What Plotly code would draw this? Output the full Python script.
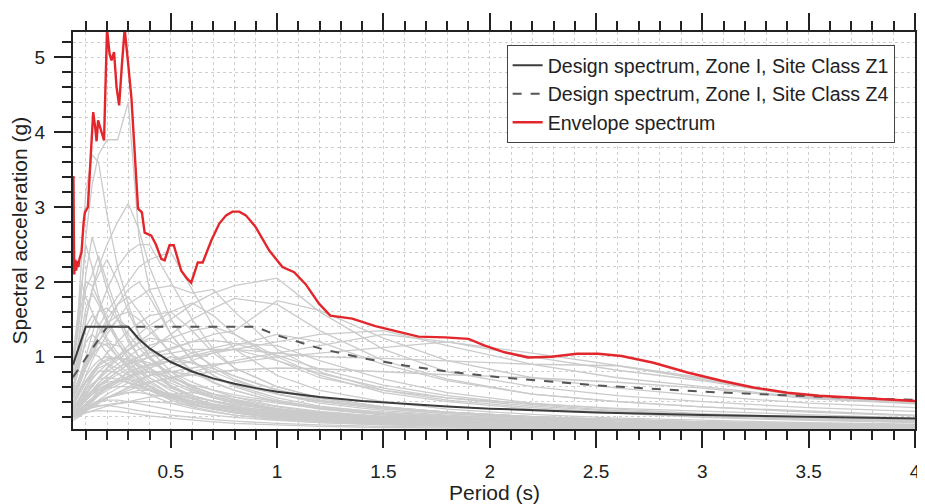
import plotly.graph_objects as go

# ---- period grid for individual record spectra (s)
periods = [0.04, 0.06, 0.08, 0.10, 0.13, 0.16, 0.20, 0.25, 0.30, 0.35, 0.40, 0.50,
           0.60, 0.70, 0.80, 1.0, 1.2, 1.5, 1.8, 2.2, 2.6, 3.0, 3.5, 4.0]

# ---- individual ground-motion spectra (g)
rec01 = [0.95, 1.3, 1.9, 2.6, 3.3, 3.7, 3.9, 3.9, 4.4, 2.6, 1.9, 1.3, 0.95, 0.75, 0.6, 0.42, 0.32, 0.24, 0.19, 0.15, 0.12, 0.10, 0.08, 0.07]
rec02 = [0.85, 1.4, 2.3, 3.2, 3.7, 3.6, 2.9, 2.2, 1.7, 1.3, 1.0, 0.7, 0.55, 0.45, 0.38, 0.28, 0.22, 0.17, 0.13, 0.10, 0.08, 0.07, 0.06, 0.05]
rec03 = [0.6, 0.8, 1.1, 1.5, 1.9, 2.2, 2.5, 2.8, 3.05, 2.7, 2.2, 1.5, 1.1, 0.85, 0.7, 0.5, 0.4, 0.3, 0.24, 0.19, 0.15, 0.12, 0.10, 0.08]
rec04 = [0.5, 0.6, 0.8, 1.0, 1.3, 1.6, 1.9, 2.2, 2.4, 2.5, 2.5, 2.0, 1.5, 1.1, 0.85, 0.6, 0.45, 0.33, 0.26, 0.2, 0.16, 0.13, 0.1, 0.08]
rec05 = [0.45, 0.55, 0.7, 0.9, 1.1, 1.4, 1.6, 1.8, 2.0, 2.2, 2.3, 2.4, 1.9, 1.4, 1.1, 0.75, 0.55, 0.4, 0.3, 0.23, 0.18, 0.15, 0.12, 0.1]
rec06 = [0.4, 0.5, 0.6, 0.75, 0.95, 1.1, 1.3, 1.5, 1.7, 1.8, 1.9, 1.95, 1.85, 1.9, 1.6, 1.1, 0.8, 0.55, 0.42, 0.32, 0.25, 0.2, 0.16, 0.13]
rec07 = [0.3, 0.35, 0.45, 0.55, 0.7, 0.8, 0.9, 1.0, 1.1, 1.2, 1.3, 1.5, 1.7, 1.85, 1.95, 2.05, 1.6, 1.1, 0.8, 0.6, 0.48, 0.4, 0.32, 0.27]
rec08 = [0.25, 0.3, 0.35, 0.45, 0.55, 0.65, 0.75, 0.85, 0.95, 1.0, 1.05, 1.1, 1.2, 1.3, 1.35, 1.75, 1.62, 1.25, 0.95, 0.72, 0.58, 0.48, 0.38, 0.32]
rec09 = [0.2, 0.25, 0.3, 0.35, 0.4, 0.5, 0.6, 0.7, 0.8, 0.85, 0.9, 0.95, 1.0, 1.05, 1.1, 1.2, 1.3, 1.35, 1.15, 0.9, 0.72, 0.6, 0.45, 0.38]
rec10 = [0.2, 0.22, 0.26, 0.3, 0.36, 0.42, 0.5, 0.58, 0.65, 0.7, 0.75, 0.8, 0.85, 0.9, 0.92, 1.0, 1.05, 1.12, 1.2, 1.05, 0.88, 0.72, 0.46, 0.38]
rec11 = [0.25, 0.3, 0.35, 0.42, 0.5, 0.6, 0.7, 0.8, 0.9, 0.95, 1.0, 1.05, 1.1, 1.1, 1.1, 1.05, 1.0, 0.98, 0.95, 0.9, 0.88, 0.7, 0.47, 0.38]
rec12 = [0.7, 0.9, 1.2, 1.5, 1.9, 2.1, 2.3, 2.0, 1.6, 1.3, 1.1, 0.8, 0.6, 0.5, 0.42, 0.3, 0.24, 0.18, 0.14, 0.11, 0.09, 0.07, 0.06, 0.05]
rec13 = [0.9, 1.3, 1.9, 2.5, 2.2, 1.8, 1.5, 1.2, 0.95, 0.8, 0.68, 0.5, 0.4, 0.33, 0.28, 0.2, 0.16, 0.12, 0.1, 0.08, 0.06, 0.05, 0.045, 0.04]
rec14 = [1.0, 1.5, 2.0, 1.8, 1.6, 1.4, 1.2, 1.0, 0.85, 0.7, 0.6, 0.45, 0.35, 0.3, 0.25, 0.18, 0.14, 0.1, 0.08, 0.06, 0.05, 0.045, 0.04, 0.035]
rec15 = [0.5, 0.6, 0.75, 0.9, 1.1, 1.3, 1.5, 1.7, 1.8, 1.6, 1.4, 1.05, 0.8, 0.65, 0.55, 0.4, 0.3, 0.22, 0.18, 0.14, 0.11, 0.09, 0.07, 0.06]
rec16 = [0.35, 0.4, 0.5, 0.6, 0.75, 0.9, 1.05, 1.2, 1.35, 1.45, 1.55, 1.6, 1.35, 1.05, 0.85, 0.6, 0.45, 0.33, 0.26, 0.2, 0.16, 0.13, 0.1, 0.08]
rec17 = [0.3, 0.35, 0.4, 0.5, 0.6, 0.7, 0.8, 0.9, 1.0, 1.1, 1.15, 1.25, 1.35, 1.4, 1.3, 1.0, 0.75, 0.52, 0.4, 0.3, 0.24, 0.19, 0.15, 0.12]
rec18 = [0.2, 0.25, 0.3, 0.35, 0.42, 0.5, 0.58, 0.65, 0.72, 0.8, 0.85, 0.95, 1.05, 1.12, 1.18, 1.15, 0.95, 0.7, 0.52, 0.38, 0.3, 0.24, 0.19, 0.15]
rec19 = [0.35, 0.45, 0.55, 0.65, 0.75, 0.85, 0.9, 0.85, 0.75, 0.65, 0.55, 0.42, 0.33, 0.27, 0.22, 0.16, 0.12, 0.09, 0.07, 0.055, 0.045, 0.04, 0.035, 0.03]
rec20 = [0.25, 0.3, 0.35, 0.42, 0.5, 0.58, 0.63, 0.68, 0.7, 0.66, 0.6, 0.48, 0.38, 0.31, 0.26, 0.19, 0.15, 0.11, 0.09, 0.07, 0.06, 0.05, 0.04, 0.035]
rec21 = [0.5, 0.65, 0.8, 0.95, 1.1, 1.2, 1.15, 1.0, 0.85, 0.72, 0.62, 0.47, 0.37, 0.3, 0.25, 0.18, 0.14, 0.1, 0.08, 0.065, 0.05, 0.045, 0.04, 0.035]
rec22 = [0.45, 0.55, 0.7, 0.85, 1.05, 1.2, 1.35, 1.5, 1.4, 1.2, 1.0, 0.75, 0.58, 0.47, 0.4, 0.29, 0.22, 0.16, 0.13, 0.1, 0.08, 0.065, 0.055, 0.045]
rec23 = [0.2, 0.25, 0.3, 0.38, 0.45, 0.55, 0.62, 0.7, 0.78, 0.85, 0.9, 1.0, 0.92, 0.8, 0.68, 0.5, 0.38, 0.28, 0.22, 0.17, 0.13, 0.11, 0.09, 0.07]
rec24 = [0.25, 0.3, 0.36, 0.42, 0.5, 0.56, 0.62, 0.68, 0.73, 0.77, 0.8, 0.72, 0.6, 0.5, 0.42, 0.3, 0.23, 0.17, 0.13, 0.1, 0.08, 0.065, 0.055, 0.045]
rec25 = [0.3, 0.35, 0.4, 0.45, 0.5, 0.55, 0.58, 0.6, 0.6, 0.58, 0.55, 0.5, 0.45, 0.4, 0.36, 0.3, 0.25, 0.2, 0.17, 0.14, 0.12, 0.1, 0.085, 0.07]
rec26 = [0.25, 0.27, 0.3, 0.32, 0.34, 0.35, 0.35, 0.33, 0.3, 0.28, 0.26, 0.22, 0.19, 0.16, 0.14, 0.11, 0.09, 0.07, 0.06, 0.05, 0.042, 0.036, 0.03, 0.026]
rec27 = [0.5, 0.6, 0.7, 0.85, 1.0, 1.2, 1.4, 1.7, 1.9, 2.0, 1.8, 1.3, 0.95, 0.75, 0.62, 0.45, 0.34, 0.25, 0.2, 0.15, 0.12, 0.1, 0.08, 0.065]
rec28 = [0.6, 0.8, 1.0, 1.2, 1.3, 1.2, 1.05, 0.9, 0.78, 0.68, 0.6, 0.48, 0.4, 0.34, 0.3, 0.23, 0.18, 0.14, 0.11, 0.09, 0.075, 0.065, 0.055, 0.045]
rec29 = [0.3, 0.35, 0.42, 0.5, 0.6, 0.72, 0.85, 1.0, 1.15, 1.3, 1.42, 1.6, 1.72, 1.55, 1.3, 0.95, 0.72, 0.55, 0.45, 0.37, 0.31, 0.27, 0.22, 0.18]
rec30 = [0.15, 0.18, 0.22, 0.27, 0.32, 0.38, 0.45, 0.52, 0.58, 0.62, 0.66, 0.72, 0.76, 0.8, 0.82, 0.85, 0.84, 0.8, 0.76, 0.72, 0.66, 0.58, 0.44, 0.37]
rec31 = [0.8, 1.1, 1.5, 1.9, 2.1, 2.35, 2.0, 1.6, 1.25, 1.0, 0.85, 0.62, 0.48, 0.4, 0.34, 0.25, 0.19, 0.14, 0.11, 0.09, 0.07, 0.06, 0.05, 0.04]
rec32 = [0.22, 0.25, 0.3, 0.35, 0.4, 0.48, 0.55, 0.62, 0.7, 0.78, 0.85, 0.95, 1.02, 1.08, 1.1, 0.95, 0.78, 0.58, 0.45, 0.34, 0.27, 0.22, 0.17, 0.14]
rec33 = [0.3, 0.35, 0.4, 0.48, 0.55, 0.62, 0.7, 0.8, 0.9, 1.0, 1.1, 1.3, 1.5, 1.65, 1.78, 1.7, 1.35, 0.95, 0.7, 0.5, 0.4, 0.33, 0.27, 0.22]
rec34 = [0.25, 0.27, 0.3, 0.33, 0.37, 0.41, 0.45, 0.49, 0.52, 0.55, 0.55, 0.5, 0.43, 0.37, 0.32, 0.24, 0.19, 0.14, 0.11, 0.09, 0.07, 0.06, 0.05, 0.04]
rec35 = [0.22, 0.23, 0.25, 0.26, 0.27, 0.28, 0.28, 0.27, 0.25, 0.23, 0.21, 0.18, 0.15, 0.13, 0.11, 0.085, 0.07, 0.055, 0.045, 0.038, 0.032, 0.028, 0.024, 0.02]
rec36 = [0.7, 1.0, 1.5, 2.1, 2.6, 2.3, 1.9, 1.5, 1.2, 1.0, 0.85, 0.6, 0.45, 0.36, 0.3, 0.22, 0.17, 0.13, 0.1, 0.08, 0.065, 0.055, 0.045, 0.04]
rec37 = [0.4, 0.48, 0.58, 0.68, 0.8, 0.9, 0.97, 1.0, 0.95, 0.87, 0.8, 0.65, 0.53, 0.45, 0.38, 0.29, 0.23, 0.17, 0.14, 0.11, 0.09, 0.075, 0.06, 0.05]
rec38 = [0.18, 0.2, 0.24, 0.28, 0.33, 0.38, 0.45, 0.52, 0.6, 0.68, 0.75, 0.85, 0.95, 1.05, 1.15, 1.3, 1.2, 0.9, 0.68, 0.5, 0.4, 0.33, 0.26, 0.21]
rec39 = [0.55, 0.65, 0.8, 0.95, 1.15, 1.3, 1.45, 1.55, 1.6, 1.5, 1.35, 1.05, 0.82, 0.66, 0.55, 0.4, 0.31, 0.23, 0.18, 0.14, 0.11, 0.09, 0.075, 0.06]
rec40 = [0.25, 0.26, 0.28, 0.3, 0.32, 0.34, 0.36, 0.38, 0.4, 0.43, 0.46, 0.5, 0.52, 0.5, 0.46, 0.38, 0.31, 0.23, 0.18, 0.14, 0.11, 0.09, 0.075, 0.06]
rec41 = [0.2, 0.22, 0.25, 0.3, 0.35, 0.4, 0.45, 0.5, 0.55, 0.6, 0.65, 0.72, 0.8, 0.88, 0.95, 1.05, 1.15, 1.3, 1.2, 1.0, 0.82, 0.68, 0.46, 0.4]
rec42 = [0.3, 0.38, 0.48, 0.6, 0.72, 0.8, 0.82, 0.78, 0.7, 0.62, 0.55, 0.44, 0.36, 0.3, 0.26, 0.2, 0.16, 0.12, 0.1, 0.08, 0.065, 0.055, 0.047, 0.04]
rec43 = [0.45, 0.6, 0.78, 0.95, 1.05, 1.0, 0.9, 0.78, 0.66, 0.56, 0.49, 0.38, 0.31, 0.26, 0.22, 0.17, 0.14, 0.11, 0.09, 0.075, 0.063, 0.055, 0.047, 0.04]
rec44 = [0.28, 0.32, 0.38, 0.45, 0.55, 0.65, 0.75, 0.85, 0.92, 0.95, 0.92, 0.8, 0.66, 0.55, 0.46, 0.34, 0.27, 0.2, 0.16, 0.13, 0.1, 0.085, 0.07, 0.06]
rec45 = [0.35, 0.4, 0.48, 0.56, 0.64, 0.7, 0.72, 0.7, 0.65, 0.6, 0.55, 0.46, 0.4, 0.35, 0.31, 0.26, 0.22, 0.18, 0.15, 0.12, 0.1, 0.09, 0.075, 0.065]
rec46 = [0.6, 0.85, 1.15, 1.4, 1.55, 1.45, 1.25, 1.05, 0.88, 0.75, 0.65, 0.5, 0.4, 0.33, 0.28, 0.21, 0.17, 0.13, 0.1, 0.08, 0.066, 0.056, 0.048, 0.04]
rec47 = [0.3, 0.36, 0.44, 0.52, 0.62, 0.72, 0.84, 0.96, 1.08, 1.18, 1.25, 1.2, 1.05, 0.88, 0.74, 0.55, 0.42, 0.31, 0.24, 0.18, 0.15, 0.12, 0.1, 0.08]
rec48 = [0.2, 0.23, 0.27, 0.31, 0.36, 0.41, 0.46, 0.5, 0.52, 0.52, 0.5, 0.45, 0.4, 0.36, 0.33, 0.28, 0.24, 0.2, 0.17, 0.14, 0.12, 0.1, 0.085, 0.07]
rec49 = [0.26, 0.28, 0.31, 0.34, 0.37, 0.4, 0.42, 0.42, 0.4, 0.37, 0.34, 0.29, 0.25, 0.22, 0.19, 0.15, 0.12, 0.095, 0.078, 0.062, 0.052, 0.045, 0.038, 0.033]
rec50 = [0.4, 0.5, 0.62, 0.74, 0.86, 0.95, 1.0, 0.98, 0.9, 0.8, 0.72, 0.58, 0.48, 0.41, 0.36, 0.29, 0.24, 0.19, 0.16, 0.13, 0.11, 0.095, 0.08, 0.07]
rec51 = [0.7, 0.95, 1.3, 1.65, 1.85, 1.7, 1.45, 1.2, 1.0, 0.85, 0.72, 0.55, 0.44, 0.36, 0.3, 0.22, 0.17, 0.13, 0.1, 0.08, 0.065, 0.055, 0.046, 0.04]
rec52 = [0.22, 0.26, 0.31, 0.37, 0.44, 0.52, 0.6, 0.68, 0.74, 0.78, 0.8, 0.8, 0.76, 0.7, 0.63, 0.5, 0.41, 0.32, 0.26, 0.2, 0.16, 0.13, 0.11, 0.09]
rec53 = [0.5, 0.6, 0.74, 0.88, 1.02, 1.12, 1.18, 1.15, 1.06, 0.95, 0.85, 0.68, 0.56, 0.47, 0.4, 0.31, 0.25, 0.19, 0.15, 0.12, 0.1, 0.085, 0.07, 0.06]
rec54 = [0.33, 0.37, 0.42, 0.48, 0.55, 0.61, 0.66, 0.68, 0.66, 0.62, 0.57, 0.48, 0.41, 0.36, 0.32, 0.26, 0.21, 0.17, 0.14, 0.115, 0.095, 0.08, 0.068, 0.058]
rec55 = [0.25, 0.28, 0.32, 0.37, 0.43, 0.5, 0.58, 0.66, 0.74, 0.82, 0.88, 0.94, 0.92, 0.84, 0.74, 0.56, 0.44, 0.33, 0.26, 0.2, 0.16, 0.13, 0.105, 0.085]
rec56 = [0.55, 0.75, 1.0, 1.25, 1.45, 1.6, 1.65, 1.5, 1.3, 1.12, 0.97, 0.75, 0.6, 0.5, 0.43, 0.33, 0.26, 0.2, 0.16, 0.13, 0.1, 0.085, 0.07, 0.06]
rec57 = [0.2, 0.21, 0.23, 0.25, 0.28, 0.31, 0.34, 0.37, 0.39, 0.4, 0.4, 0.38, 0.35, 0.32, 0.29, 0.24, 0.2, 0.16, 0.13, 0.11, 0.09, 0.078, 0.066, 0.056]
rec58 = [0.38, 0.46, 0.56, 0.66, 0.78, 0.88, 0.95, 0.98, 0.96, 0.9, 0.84, 0.72, 0.62, 0.55, 0.49, 0.4, 0.33, 0.26, 0.21, 0.17, 0.14, 0.12, 0.1, 0.085]
rec59 = [0.9, 1.25, 1.7, 2.0, 1.95, 1.75, 1.5, 1.25, 1.05, 0.9, 0.78, 0.6, 0.48, 0.4, 0.34, 0.26, 0.2, 0.15, 0.12, 0.095, 0.078, 0.066, 0.055, 0.047]
rec60 = [0.3, 0.34, 0.4, 0.46, 0.53, 0.6, 0.68, 0.76, 0.84, 0.92, 1.0, 1.12, 1.2, 1.22, 1.18, 1.02, 0.84, 0.62, 0.48, 0.36, 0.28, 0.23, 0.18, 0.15]

records = [rec01, rec02, rec03, rec04, rec05, rec06, rec07, rec08, rec09, rec10,
           rec11, rec12, rec13, rec14, rec15, rec16, rec17, rec18, rec19, rec20,
           rec21, rec22, rec23, rec24, rec25, rec26, rec27, rec28, rec29, rec30,
           rec31, rec32, rec33, rec34, rec35, rec36, rec37, rec38, rec39, rec40,
           rec41, rec42, rec43, rec44, rec45, rec46, rec47, rec48, rec49, rec50,
           rec51, rec52, rec53, rec54, rec55, rec56, rec57, rec58, rec59, rec60]

# ---- design spectra (g)
z1_period = [0.04, 0.10, 0.30, 0.35, 0.40, 0.50, 0.60, 0.70, 0.80, 0.90, 1.0, 1.2, 1.4, 1.6, 1.8, 2.0, 2.5, 3.0, 3.5, 4.0]
z1_sa = [0.896, 1.4, 1.4, 1.238, 1.112, 0.930, 0.804, 0.711, 0.639, 0.581, 0.534, 0.462, 0.408, 0.367, 0.334, 0.307, 0.257, 0.222, 0.196, 0.176]
z4_period = [0.04, 0.20, 0.90, 1.0, 1.2, 1.4, 1.6, 1.8, 2.0, 2.5, 3.0, 3.5, 4.0]
z4_sa = [0.728, 1.4, 1.4, 1.287, 1.112, 0.983, 0.884, 0.804, 0.739, 0.618, 0.534, 0.472, 0.424]

# ---- envelope spectrum (g)
env_period = [0.040, 0.042, 0.044, 0.046, 0.050, 0.055, 0.060, 0.065, 0.070, 0.080, 0.090, 0.096, 0.110,
              0.125, 0.135, 0.145, 0.151, 0.158, 0.170, 0.186, 0.200, 0.212, 0.221, 0.233, 0.245,
              0.257, 0.270, 0.283, 0.300, 0.315, 0.346, 0.364, 0.377, 0.408, 0.430, 0.455, 0.471,
              0.494, 0.514, 0.549, 0.575, 0.596, 0.627, 0.650, 0.690, 0.728, 0.760, 0.790, 0.822,
              0.853, 0.900, 0.963, 1.025, 1.080, 1.134, 1.197, 1.250, 1.353, 1.462, 1.587, 1.665,
              1.790, 1.900, 1.977, 2.070, 2.180, 2.290, 2.410, 2.510, 2.620, 2.770, 2.930, 3.090,
              3.240, 3.400, 3.550, 3.710, 3.870, 4.000]
env_sa = [3.40, 3.40, 2.60, 2.10, 2.30, 2.15, 2.28, 2.20, 2.30, 2.40, 2.80, 2.93, 3.00,
          3.80, 4.27, 4.05, 3.88, 4.16, 4.05, 3.89, 5.38, 5.05, 4.96, 5.07, 4.60,
          4.36, 4.90, 5.38, 4.90, 4.45, 2.98, 2.93, 2.66, 2.62, 2.50, 2.31, 2.29,
          2.49, 2.49, 2.15, 2.05, 1.99, 2.26, 2.26, 2.55, 2.78, 2.89, 2.94, 2.94,
          2.89, 2.73, 2.42, 2.20, 2.13, 1.97, 1.71, 1.55, 1.51, 1.41, 1.33, 1.27,
          1.26, 1.24, 1.15, 1.06, 0.99, 1.00, 1.04, 1.04, 1.01, 0.92, 0.79, 0.68,
          0.59, 0.52, 0.48, 0.455, 0.43, 0.41]

x_ticks = [0.5, 1, 1.5, 2, 2.5, 3, 3.5, 4]
x_ticktext = ["0.5", "1", "1.5", "2", "2.5", "3", "3.5", "4"]
y_ticks = [1, 2, 3, 4, 5]

FONT = "Liberation Sans, Arial, sans-serif"
INK = "#222222"

fig = go.Figure()
for rec in records:
    fig.add_trace(go.Scatter(x=periods, y=rec, mode="lines", showlegend=False,
                             hoverinfo="skip",
                             line=dict(color="#cbcbcb", width=1.3)))

fig.add_trace(go.Scatter(x=z1_period, y=z1_sa, mode="lines",
                         name="Design spectrum, Zone I, Site Class Z1",
                         line=dict(color="#3c3c3c", width=2)))
fig.add_trace(go.Scatter(x=z4_period, y=z4_sa, mode="lines",
                         name="Design spectrum, Zone I, Site Class Z4",
                         line=dict(color="#555555", width=2, dash="dash")))
fig.add_trace(go.Scatter(x=env_period, y=env_sa, mode="lines",
                         name="Envelope spectrum",
                         line=dict(color="#e3262b", width=2.4)))

axis_common = dict(
    showline=True, linecolor=INK, linewidth=2, mirror="ticks",
    ticks="outside", tickwidth=2, tickcolor=INK, ticklen=17,
    showgrid=True, gridcolor="#cfcfcf", griddash="dot", gridwidth=1,
    zeroline=False, automargin=False,
    tickfont=dict(family=FONT, size=19, color=INK),
)

fig.update_xaxes(
    range=[0.04, 4.0], tickmode="array", tickvals=x_ticks, ticktext=x_ticktext,
    ticklabelstandoff=7,
    minor=dict(dtick=0.1, tick0=0, ticklen=9, tickwidth=2, tickcolor=INK,
               ticks="outside", showgrid=True, gridcolor="#cfcfcf", griddash="dot", gridwidth=1),
    **axis_common,
)
fig.update_yaxes(
    range=[0.035, 5.34], tickmode="array", tickvals=y_ticks,
    ticklabelstandoff=5,
    minor=dict(dtick=0.2, tick0=0, ticklen=9, tickwidth=2, tickcolor=INK,
               ticks="outside", showgrid=True, gridcolor="#cfcfcf", griddash="dot", gridwidth=1),
    **axis_common,
)

fig.add_annotation(text="Period (s)", xref="paper", yref="paper", x=0.5, y=-0.161,
                   xanchor="center", yanchor="middle", showarrow=False,
                   font=dict(family=FONT, size=21, color=INK))
fig.add_annotation(text="Spectral acceleration (g)", xref="paper", yref="paper",
                   x=-0.063, y=0.5, xanchor="center", yanchor="middle", textangle=-90,
                   showarrow=False, font=dict(family=FONT, size=21, color=INK))

fig.update_layout(
    width=925, height=496,
    margin=dict(l=65, r=18, t=24, b=75, autoexpand=False),
    paper_bgcolor="white", plot_bgcolor="white",
    font=dict(family=FONT, size=19, color=INK),
    legend=dict(x=0.515, y=0.967, xanchor="left", yanchor="top",
                bgcolor="white", bordercolor="#444444", borderwidth=1,
                font=dict(family=FONT, size=19.6, color=INK),
                tracegroupgap=0),
    showlegend=True,
)

fig.write_html("out.html")
